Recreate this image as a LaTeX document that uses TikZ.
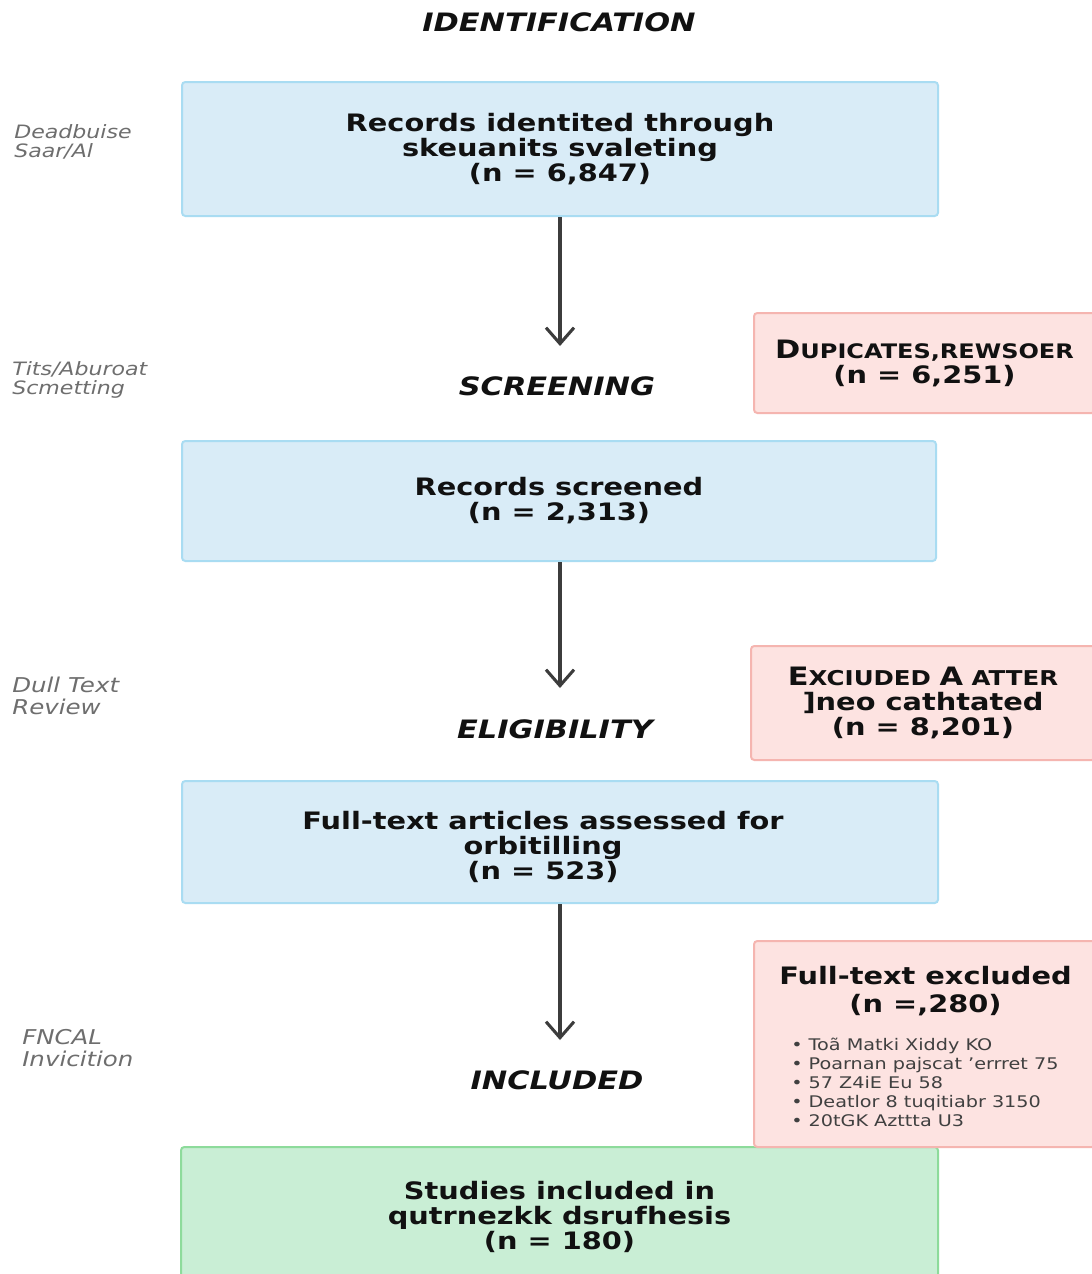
\documentclass[tikz,border=0pt]{standalone}
\usepackage{fontspec}
\setmainfont{DejaVu Sans}[FakeStretch=1.2]
\usetikzlibrary{arrows.meta}
\definecolor{bluefill}{HTML}{D9ECF7}
\definecolor{blueline}{HTML}{A9DCF2}
\definecolor{pinkfill}{HTML}{FDE3E1}
\definecolor{pinkline}{HTML}{F5B5B0}
\definecolor{greenfill}{HTML}{C9EED5}
\definecolor{greenline}{HTML}{8DDB9B}
\definecolor{arrowgray}{HTML}{3C3C3C}
\definecolor{labelgray}{HTML}{6E6E6E}
\definecolor{inkblack}{HTML}{111111}
\tikzset{
  boxbase/.style={rounded corners=2.5pt, line width=1.5pt, align=center, inner sep=0pt,
    text=inkblack, font=\bfseries\fontsize{18}{18.75}\selectfont},
  bluebox/.style={boxbase, fill=bluefill, draw=blueline},
  pinkbox/.style={boxbase, fill=pinkfill, draw=pinkline},
  greenbox/.style={boxbase, fill=greenfill, draw=greenline},
  stagelabel/.style={font=\bfseries\itshape\fontsize{19}{21}\selectfont, text=inkblack, inner sep=0pt},
  sidelabel/.style={font=\itshape\fontsize{13.8}{14.3}\selectfont, text=labelgray, align=left, anchor=west, inner sep=0pt},
  flowarrow/.style={draw=arrowgray, line width=2.3pt,
    -{Straight Barb[length=12pt,width=21pt,line width=2.3pt]}},
  plain/.style={inner sep=0pt, align=center, text=inkblack},
}
\begin{document}
\begin{tikzpicture}[x=0.75pt,y=-0.75pt]
\useasboundingbox (0,0) rectangle (1092,1274);
\clip (0,0) rectangle (1092,1274);
\fill[white] (0,0) rectangle (1092,1274);

% stage labels
\node[stagelabel] (sid) at (559,22) {IDENTIFICATION};
\node[stagelabel] (sscr) at (557,386) {SCREENING};
\node[stagelabel] (selig) at (555,729) {ELIGIBILITY};
\node[stagelabel] (sinc) at (557,1080) {INCLUDED};

% side labels
\node[sidelabel] (l1) at (14,142) {Deadbuise\\Saar/Al};
\node[sidelabel] (l2) at (12,380) {Tits/Aburoat\\Scmetting};
\node[sidelabel, font=\itshape\fontsize{15.3}{16.5}\selectfont] (l3) at (12,696) {Dull Text\\Review};
\node[sidelabel, font=\itshape\fontsize{15.3}{16.5}\selectfont] (l4) at (22,1048) {FNCAL\\Invicition};

% main boxes
\node[bluebox, minimum width=756*0.75pt, minimum height=134*0.75pt] (b1) at (560,149)
  {Records identited through\\skeuanits svaleting\\(n = 6,847)};
\node[bluebox, minimum width=754*0.75pt, minimum height=120*0.75pt] (b2) at (559,501)
  {Records screened\\(n = 2,313)};
\node[bluebox, minimum width=756*0.75pt, minimum height=122*0.75pt] (b3) at (560,842) {};
\node[plain, font=\bfseries\fontsize{18}{18.75}\selectfont] (t3) at (543,847)
  {Full-text articles assessed for\\orbitilling\\(n = 523)};
\node[greenbox, minimum width=757*0.75pt, minimum height=140*0.75pt] (b4) at (559.5,1217)
  {Studies included in\\qutrnezkk dsrufhesis\\(n = 180)};

% side boxes
\node[pinkbox, minimum width=341*0.75pt, minimum height=100*0.75pt] (p1) at (924.5,363)
  {{\fontsize{19}{18.75}\selectfont D}{\fontsize{15}{18.75}\selectfont UPICATES,REWSOER}\\(n = 6,251)};
\node[pinkbox, minimum width=344*0.75pt, minimum height=114*0.75pt] (p2) at (923,703)
  {{\fontsize{19}{18.75}\selectfont E}{\fontsize{15.3}{18.75}\selectfont XCIUDED }{\fontsize{19}{18.75}\selectfont A}{\fontsize{15.3}{18.75}\selectfont\ ATTER}\\]neo cathtated\\(n = 8,201)};
\node[pinkbox, minimum width=341*0.75pt, minimum height=206*0.75pt] (p3) at (924.5,1044) {};
\node[plain, font=\bfseries\fontsize{18}{21}\selectfont] (p3h) at (925.5,991)
  {Full-text excluded\\(n =,280)};
\node[plain, align=left, anchor=north west, text=black!75, font=\fontsize{12}{14.25}\selectfont] (p3b) at (791,1038)
  {• Toã Matki Xiddy KO\\• Poarnan pajscat 'errret 75\\• 57 Z4iE Eu 58\\• Deatlor 8 tuqitiabr 3150\\• 20tGK Azttta U3};

% connectors
\coordinate (e1) at (560,346);
\coordinate (e2) at (560,688);
\coordinate (e3) at (560,1040);
\draw[flowarrow] (b1.south -| e1) -- (e1);
\draw[flowarrow] (b2.south -| e2) -- (e2);
\draw[flowarrow] (b3.south -| e3) -- (e3);
\end{tikzpicture}
\end{document}
